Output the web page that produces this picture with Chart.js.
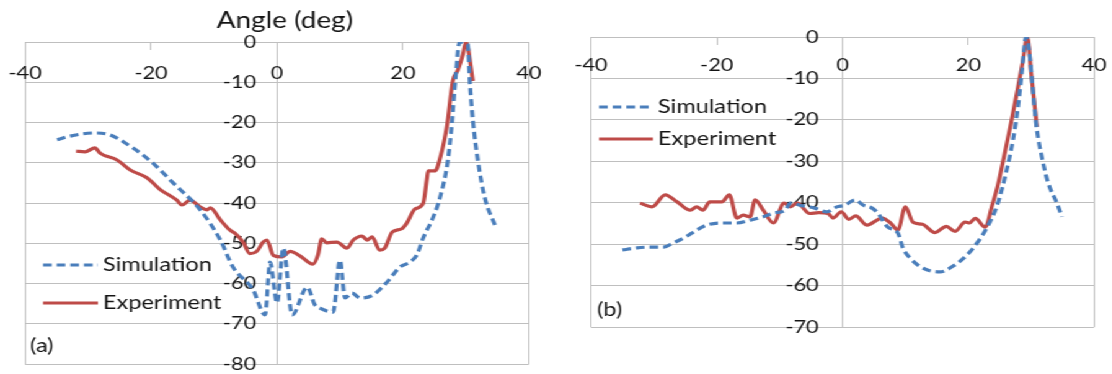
<!DOCTYPE html>
<html>
<head>
<meta charset="utf-8">
<title>Angle (deg)</title>
<script src="https://cdn.jsdelivr.net/npm/chart.js@4.4.1/dist/chart.umd.min.js"></script>
<style>
  html, body { margin: 0; padding: 0; background: #fff; overflow: hidden; width: 1112px; height: 374px; }
  /* the figure is drawn at a narrower width and widened to fill the page */
  #figure { position: absolute; left: 0; top: 0; width: 897px; height: 374px;
            transform: scaleX(1.24); transform-origin: 0 0; }
  #figure canvas { position: absolute; top: 0; }
  #chartA { left: 0; width: 460px; height: 404px; }
  #chartB { left: 460px; width: 437px; height: 374px; }
</style>
</head>
<body>
<div id="figure">
  <canvas id="chartA" width="460" height="404"></canvas>
  <canvas id="chartB" width="437" height="374"></canvas>
</div>
<script>
// ---- panel (a) ----
const simA_x = [-34.9, -32.9, -28.9, -26.5, -22.9, -19.7, -16.5, -12.2, -9.0, -7.0,
                -3.8, -1.9, -1.1, 0, 1.0, 2.4, 4.8, 6.0, 6.8, 8.9,
                10.0, 10.8, 11.9, 13.2, 15.2, 17.5, 19.5, 21.1, 22.2, 23.2,
                24.8, 25.9, 27.1, 27.8, 28.3, 29.0, 30.3, 30.6, 31.1, 31.9,
                33.0, 34.6];
const simA_y = [-24.3, -23.4, -22.6, -23.1, -26.3, -30.1, -35.0, -41.7, -49.2, -55.9,
                -61.6, -67.8, -54.7, -64.8, -51.2, -67.8, -60.9, -65.3, -66.1, -67.1,
                -54.2, -63.6, -62.4, -63.6, -62.9, -59.6, -55.9, -54.7, -52.9, -48.7,
                -43.5, -38.5, -29.6, -19.6, -9.7, 0, -0.7, -9.7, -19.6, -29.6,
                -38.8, -45.5];
const expA_x = [-31.9, -30.5, -28.9, -28.1, -25.4, -23.3, -20.6, -18.6, -15.9, -15.1,
                -13.8, -12.2, -11.1, -10.6, -9.0, -7.5, -6.7, -5.4, -4.3, -3.2,
                -2.2, -1.6, -0.6, 0.8, 2.1, 3.7, 5.7, 6.5, 7.1, 7.9,
                9.5, 11.1, 12.1, 13.5, 14.3, 15.1, 16.3, 17.1, 18.3, 19.8,
                20.6, 21.9, 23.2, 23.8, 24.0, 25.1, 25.9, 27.0, 27.9, 28.7,
                29.5, 30.0, 31.1];
const expA_y = [-27.1, -27.3, -26.3, -27.6, -29.3, -31.8, -33.8, -36.6, -39.3, -40.5,
                -39.3, -41.0, -41.7, -41.2, -44.2, -46.7, -47.5, -49.7, -52.6, -52.0,
                -49.7, -49.2, -53.0, -53.4, -52.0, -53.2, -55.2, -52.9, -48.9, -49.9,
                -49.7, -51.2, -49.2, -48.2, -49.2, -48.4, -51.7, -51.2, -47.2, -46.4,
                -45.0, -41.5, -40.1, -34.0, -32.0, -32.0, -28.8, -20.6, -9.7, -7.0,
                -3.2, 0, -9.7];

// ---- panel (b) ----
const simB_x = [-35.0, -32.7, -30.6, -28.5, -26.9, -25.0, -23.2, -21.6, -19.5, -16.8,
                -14.7, -12.6, -11.0, -9.1, -8.3, -6.8, -4.4, -2.5, -0.9, 0.4,
                2.0, 3.3, 4.7, 5.6, 7.2, 8.8, 9.6, 10.7, 12.8, 15.5,
                17.6, 19.8, 21.4, 23.0, 24.6, 26.1, 27.1, 27.9, 28.5, 29.2,
                30.9, 31.7, 32.7, 34.1, 34.9];
const simB_y = [-51.4, -50.9, -50.7, -50.7, -49.7, -48.3, -46.6, -45.4, -44.9, -44.9,
                -44.2, -43.4, -42.5, -41.8, -40.1, -40.6, -41.3, -42.2, -41.0, -40.6,
                -39.3, -40.6, -41.3, -42.5, -45.9, -47.3, -50.9, -53.3, -55.8, -56.7,
                -55.3, -52.6, -49.7, -45.9, -40.6, -32.1, -24.9, -16.9, -8.7, 0,
                -22.4, -29.0, -35.2, -40.1, -43.4];
const expB_x = [-32.2, -30.3, -28.2, -26.3, -24.2, -23.2, -22.2, -21.1, -19.2, -18.0,
                -16.8, -15.8, -14.7, -13.9, -12.6, -11.0, -9.3, -8.3, -7.2, -5.2,
                -3.8, -2.3, -1.5, -0.2, 1.0, 2.1, 3.9, 6.3, 7.7, 8.8,
                10.0, 11.2, 12.7, 14.7, 16.5, 17.9, 19.5, 20.2, 21.1, 22.7,
                23.8, 24.7, 25.8, 26.9, 27.9, 28.7, 29.4, 30.0, 30.9];
const expB_y = [-40.1, -41.0, -38.1, -39.8, -41.8, -41.0, -41.8, -39.8, -39.8, -38.1,
                -43.7, -43.0, -43.4, -39.3, -41.8, -44.9, -40.1, -41.0, -40.1, -42.6,
                -42.4, -42.6, -43.7, -42.2, -44.0, -43.2, -45.4, -43.7, -45.0, -46.6,
                -41.0, -44.7, -45.2, -47.2, -45.7, -46.9, -44.7, -44.9, -43.8, -45.9,
                -40.6, -35.8, -28.0, -20.0, -12.1, -5.6, 0, -8.7, -21.7];

// ---- axes ----
const xTickValues = [-40, -20, 0, 20, 40];
const yTicksA = [0, -10, -20, -30, -40, -50, -60, -70, -80];
const yTicksB = [0, -10, -20, -30, -40, -50, -60, -70];

const seriesNames = ['Simulation', 'Experiment'];
const axisTitle = 'Angle (deg)';
const BLUE = '#4a7ebb';
const RED = '#be4b48';
const GRID = '#bfbfbf';
const INK = '#141414';
const FONT = 'Lato, "Open Sans", sans-serif';

function toPoints(xs, ys) { return xs.map((x, i) => ({ x: x, y: ys[i] })); }

function datasets(simX, simY, expX, expY) {
  return [
    { label: seriesNames[0], data: toPoints(simX, simY), borderColor: BLUE,
      borderWidth: 3.2, borderDash: [7, 4], pointRadius: 0, cubicInterpolationMode: 'monotone' },
    { label: seriesNames[1], data: toPoints(expX, expY), borderColor: RED,
      borderWidth: 3.2, pointRadius: 0, cubicInterpolationMode: 'monotone' }
  ];
}

// legend, panel tag and axis heading drawn inside the panel
const insetLegend = {
  id: 'insetLegend',
  afterDatasetsDraw(chart, args, o) {
    const ctx = chart.ctx;
    ctx.save();
    ctx.fillStyle = INK;
    ctx.textBaseline = 'middle';
    ctx.font = o.font;
    chart.data.datasets.forEach((ds, i) => {
      const y = o.y + i * o.rowGap;
      ctx.beginPath();
      ctx.strokeStyle = ds.borderColor;
      ctx.lineWidth = ds.borderWidth;
      ctx.setLineDash(ds.borderDash || []);
      ctx.moveTo(o.x, y);
      ctx.lineTo(o.x + o.lineLength, y);
      ctx.stroke();
      ctx.setLineDash([]);
      ctx.fillText(ds.label, o.x + o.lineLength + o.textGap, y);
    });
    ctx.fillText(o.tag, o.tagX, o.tagY);
    if (o.heading) {
      ctx.font = o.headingFont;
      ctx.textAlign = 'center';
      ctx.fillText(o.heading, o.headingX, o.headingY);
    }
    ctx.restore();
  }
};

// the vertical axis line is the x grid line at 0; the y tick labels sit a little
// to its left, so the y scale is anchored slightly left of zero
function scales(yMin, yTicks, xLabelLine, yLabelAnchor) {
  return {
    x: {
      type: 'linear', min: -40, max: 40,
      position: { y: 0 },
      afterBuildTicks: s => { s.ticks = xTickValues.map(v => ({ value: v })); },
      grid: {
        color: c => (c.tick && Math.abs(c.tick.value) === 20) ? 'rgba(0,0,0,0)' : GRID,
        tickColor: GRID, tickLength: 7, lineWidth: 1
      },
      border: { display: true, color: GRID },
      ticks: { color: INK, padding: 3, maxRotation: 0, autoSkip: false,
               font: { family: FONT, size: 17.5, lineHeight: xLabelLine } }
    },
    y: {
      type: 'linear', min: yMin, max: 0,
      position: { x: yLabelAnchor },
      afterBuildTicks: s => { s.ticks = yTicks.map(v => ({ value: v })); },
      grid: { color: GRID, drawTicks: false, lineWidth: 1 },
      border: { display: false },
      ticks: { color: INK, padding: 0, autoSkip: false,
               font: { family: FONT, size: 17.5, lineHeight: 0.8 } }
    }
  };
}

new Chart(document.getElementById('chartA'), {
  type: 'line',
  data: { datasets: datasets(simA_x, simA_y, expA_x, expA_y) },
  options: {
    responsive: false, animation: false, events: [],
    layout: { padding: { left: 20.2, right: 33.4, top: 42, bottom: 40 } },
    scales: scales(-80, yTicksA, 2.4, -3.3),
    plugins: {
      legend: { display: false },
      tooltip: { enabled: false },
      insetLegend: { x: 34.7, y: 265, rowGap: 38, lineLength: 44.3, textGap: 4,
                     font: '19px ' + FONT, tag: '(a)', tagX: 24.2, tagY: 346,
                     heading: axisTitle, headingFont: '22.5px ' + FONT,
                     headingX: 229.8, headingY: 21 }
    }
  },
  plugins: [insetLegend]
});

new Chart(document.getElementById('chartB'), {
  type: 'line',
  data: { datasets: datasets(simB_x, simB_y, expB_x, expB_y) },
  options: {
    responsive: false, animation: false, events: [],
    layout: { padding: { left: 16.6, right: 14.7, top: 37, bottom: 47 } },
    scales: scales(-70, yTicksB, 2.06, -3.8),
    plugins: {
      legend: { display: false },
      tooltip: { enabled: false },
      insetLegend: { x: 23.1, y: 107, rowGap: 32, lineLength: 43.5, textGap: 4,
                     font: '19px ' + FONT, tag: '(b)', tagX: 21.5, tagY: 310 }
    }
  },
  plugins: [insetLegend]
});
</script>
</body>
</html>
